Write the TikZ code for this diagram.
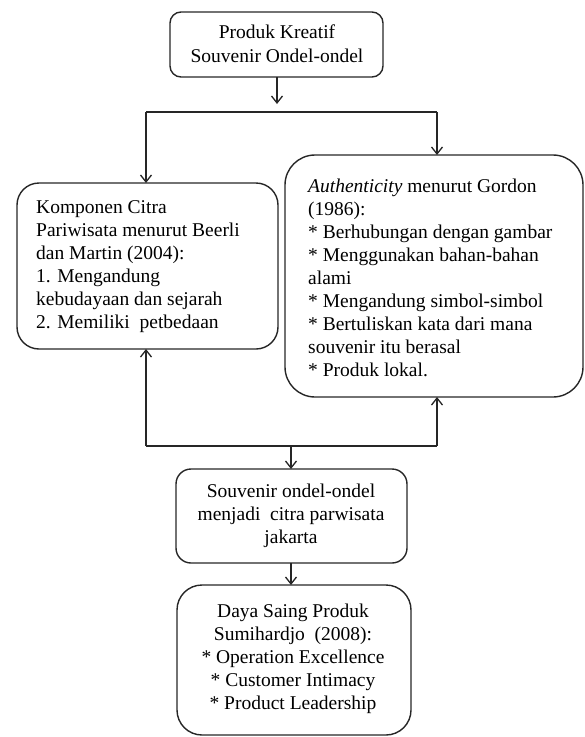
\documentclass[tikz,border=0pt]{standalone}
\usepackage{fontspec}
\setmainfont{Liberation Serif}
\usetikzlibrary{arrows.meta}
\begin{document}
\begin{tikzpicture}[x=1pt,y=-1pt,
  boxst/.style={draw=black!85,line width=1.4pt,rectangle},
  txt/.style={inner sep=0pt,font=\fontsize{19.5}{23}\selectfont},
  conn/.style={draw=black!85,line width=1.3pt},
  arr/.style={conn,-{Straight Barb[length=7pt,width=11pt,line width=1.3pt]}}]
\useasboundingbox (0,0) rectangle (585,737);
% boxes
\draw[boxst,rounded corners=11pt] (170,12) rectangle (383,77);
\node[inner sep=0pt] (topbox) at (276.5,44.5) {};
\draw[boxst,rounded corners=22pt] (17,183) rectangle (278,349);
\draw[boxst,rounded corners=30pt] (285,155) rectangle (583,397);
\draw[boxst,rounded corners=15pt] (176,469) rectangle (407,563);
\draw[boxst,rounded corners=25pt] (177,585) rectangle (411,735);
% texts
\node[txt,align=center,anchor=north,font=\fontsize{19.5}{24}\selectfont] (ttop) at (277,24.7) {Produk Kreatif\\Souvenir Ondel-ondel};
\node[txt,align=left,anchor=north west] (tleft) at (36,200.8) {Komponen Citra\\Pariwisata menurut Beerli\\dan Martin (2004):\\1. Mengandung\\kebudayaan dan sejarah\\2. Memiliki\ \ petbedaan};
\node[txt,align=left,anchor=north west] (tright) at (308,178.7) {\textit{Authenticity} menurut Gordon\\(1986):\\* Berhubungan dengan gambar\\* Menggunakan bahan-bahan\\alami\\* Mengandung simbol-simbol\\* Bertuliskan kata dari mana\\souvenir itu berasal\\* Produk lokal.};
\node[txt,align=center,anchor=north] (tmid) at (291,483.7) {Souvenir ondel-ondel\\menjadi\ \ citra parwisata\\jakarta};
\node[txt,align=center,anchor=north] (tbot) at (293,603.7) {Daya Saing Produk\\Sumihardjo\ \ (2008):\\* Operation Excellence\\* Customer Intimacy\\* Product Leadership};
% anchor coordinates on boxes
\coordinate (topS) at (277,77);
\coordinate (topT) at (277,104);
\coordinate (jl) at (146,112);
\coordinate (jr) at (437,112);
\coordinate (leftN) at (146,183);
\coordinate (rightN) at (437,155);
\coordinate (leftS) at (146,349);
\coordinate (rightS) at (437,397);
\coordinate (bl) at (146,446);
\coordinate (br) at (437,446);
\coordinate (bm) at (291,446);
\coordinate (midN) at (291,469);
\coordinate (midS) at (291,563);
\coordinate (botN) at (291,585);
% connectors
\draw[arr] (topS) -- (topT);
\draw[conn] (jl) -- (jr);
\draw[arr] (jl) -- (leftN);
\draw[arr] (jr) -- (rightN);
\draw[conn] (bl) -- (br);
\draw[arr] (bl) -- (leftS);
\draw[arr] (br) -- (rightS);
\draw[arr] (bm) -- (midN);
\draw[arr] (midS) -- (botN);
\end{tikzpicture}
\end{document}
